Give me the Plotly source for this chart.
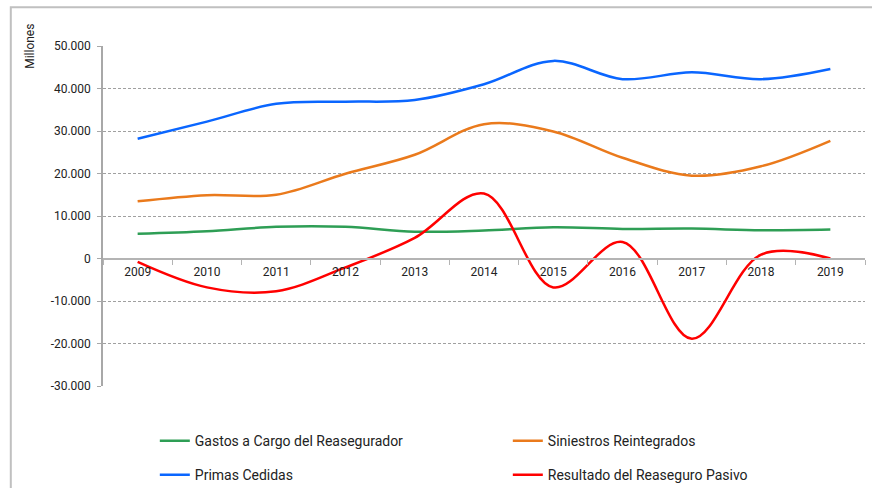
import plotly.graph_objects as go

years = ["2009", "2010", "2011", "2012", "2013", "2014", "2015", "2016", "2017", "2018", "2019"]
gastos = [5800, 6400, 7450, 7450, 6300, 6600, 7350, 6970, 7040, 6650, 6800]
siniestros = [13450, 14900, 15000, 19950, 24400, 31600, 29900, 23700, 19500, 21700, 27700]
primas = [28170, 32200, 36400, 36900, 37300, 41000, 46500, 42200, 43800, 42200, 44600]
resultado = [-800, -6800, -7700, -2100, 4850, 15300, -6800, 3900, -18900, 900, 0]

y_tickvals = [50000, 40000, 30000, 20000, 10000, 0, -10000, -20000, -30000]
y_ticktext = ["50.000", "40.000", "30.000", "20.000", "10.000", "0", "-10.000", "-20.000", "-30.000"]

series = [
    ("Gastos a Cargo del Reasegurador", gastos, "#2e9e55", "legend"),
    ("Siniestros Reintegrados", siniestros, "#ea7a1c", "legend"),
    ("Primas Cedidas", primas, "#0a66ff", "legend2"),
    ("Resultado del Reaseguro Pasivo", resultado, "#ff0000", "legend2"),
]

fig = go.Figure()
for name, vals, color, leg in series:
    fig.add_trace(go.Scatter(
        x=years, y=vals, name=name, mode="lines",
        line=dict(color=color, width=2.5, shape="spline", smoothing=1),
        legend=leg,
    ))

font = "Roboto, Arial, sans-serif"
legfont = dict(family=font, size=14, color="#222222")

fig.update_layout(
    width=872, height=488,
    margin=dict(l=103, r=7, t=46, b=102, autoexpand=False),
    paper_bgcolor="white", plot_bgcolor="white",
    font=dict(family=font, size=12, color="#222222"),
    showlegend=True,
    legend=dict(orientation="h", x=0.068, y=-0.162, xanchor="left", yanchor="middle",
                entrywidth=308, entrywidthmode="pixels", font=legfont,
                bgcolor="rgba(0,0,0,0)", borderwidth=0),
    legend2=dict(orientation="h", x=0.068, y=-0.262, xanchor="left", yanchor="middle",
                 entrywidth=308, entrywidthmode="pixels", font=legfont,
                 bgcolor="rgba(0,0,0,0)", borderwidth=0),
    xaxis=dict(
        type="category", range=[-0.5, 10.5], anchor="free", position=0.375,
        showline=True, linecolor="#b4b4b4", linewidth=2,
        ticks="outside", tickson="boundaries", ticklen=5, tickcolor="#b4b4b4", tickwidth=1,
        ticklabelstandoff=2, automargin=False,
        showgrid=False, tickfont=dict(family=font, size=12, color="#222222"),
    ),
    yaxis=dict(
        range=[-30000, 50000], tickvals=y_tickvals, ticktext=y_ticktext,
        showline=True, linecolor="#a8a8a8", linewidth=1.5,
        ticks="outside", ticklen=4, tickcolor="#a8a8a8",
        ticklabelstandoff=4, automargin=False,
        showgrid=True, gridcolor="#a0a0a0", gridwidth=1, griddash="3px,2px",
        zeroline=False, tickfont=dict(family=font, size=12, color="#222222"),
    ),
    annotations=[dict(
        text="Millones", textangle=-90, xref="paper", yref="paper",
        x=-0.096, y=1.0, showarrow=False, xanchor="center", yanchor="middle",
        font=dict(family=font, size=12, color="#222222"),
    )],
    shapes=[dict(
        type="rect", xref="paper", yref="paper",
        x0=-0.121, x1=1.05, y0=-0.45, y1=1.114,
        line=dict(color="#c0c0c0", width=2), layer="below",
    )],
)

fig.write_html(
    "out.html",
    config={"displayModeBar": False},
    post_script="document.body.style.margin='0';document.body.style.padding='0';",
)
